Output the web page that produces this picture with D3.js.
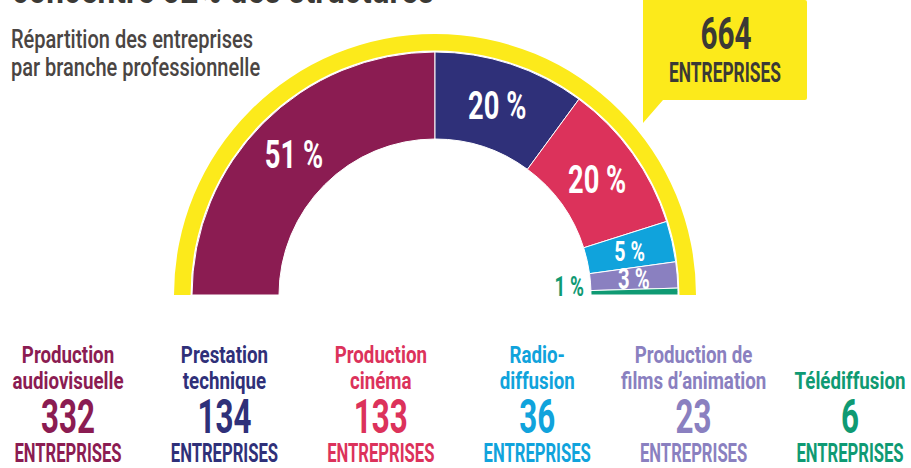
<!DOCTYPE html>
<html>
<head>
<meta charset="utf-8">
<script src="https://cdn.jsdelivr.net/npm/d3@7"></script>
<style>
  body { margin: 0; background: #fff; }
  svg { display: block; font-family: Roboto, "Noto Sans", sans-serif; }
</style>
</head>
<body>
<svg id="drawing_region"></svg>
<script>
// branches, counts and rounded shares
const branches = ["Production audiovisuelle", "Prestation technique", "Production cinéma",
                  "Radio-diffusion", "Production de films d'animation", "Télédiffusion"];
const label_lines = [["Production", "audiovisuelle"], ["Prestation", "technique"], ["Production", "cinéma"],
                     ["Radio-", "diffusion"], ["Production de", "films d’animation"], ["Télédiffusion"]];
const counts = [332, 134, 133, 36, 23, 6];
const shares = ["51 %", "20 %", "20 %", "5 %", "3 %", "1 %"];
const total = 664;
const unit = "ENTREPRISES";
const colors = ["#8b1c52", "#2f3079", "#dc325b", "#10a3dc", "#8a80c0", "#0f9a73"];

const width = 911, height = 468;
const dark = "#3b3935";

const svg = d3.select("#drawing_region")
    .attr("width", width)
    .attr("height", height);

// squeeze a text horizontally to fake a condensed face
function condense(sel, x, y, k) {
    sel.attr("transform", `translate(${x},${y}) scale(${k},1)`);
}

// title (cut off by the frame at the top)
svg.append("text")
    .style("font-size", "40px")
    .style("font-weight", "bold")
    .attr("fill", dark)
    .text("concentre 52% des structures")
    .call(condense, 12, 3, 0.79);

svg.append("text")
    .style("font-size", "26px")
    .style("font-weight", 500)
    .attr("fill", "#4a4543")
    .text("Répartition des entreprises")
    .call(condense, 11, 48, 0.77);

svg.append("text")
    .style("font-size", "26px")
    .style("font-weight", 500)
    .attr("fill", "#4a4543")
    .text("par branche professionnelle")
    .call(condense, 11, 76, 0.77);

// half donut
const cx = 435, cy = 295;
const r_in = 156, r_out = 243;

const chart = svg.append("g")
    .attr("transform", `translate(${cx}, ${cy})`);

chart.append("path")
    .attr("fill", "#fcea1b")
    .attr("d", d3.arc()({innerRadius: r_out + 1.5, outerRadius: 261,
                         startAngle: -Math.PI / 2, endAngle: Math.PI / 2}));

const pie = d3.pie()
    .sort(null)
    .startAngle(-Math.PI / 2)
    .endAngle(Math.PI / 2)
    .value(d => d);

const arcs = pie(counts);
const arc = d3.arc().innerRadius(r_in).outerRadius(r_out);

chart.selectAll("path.slice")
    .data(arcs)
    .enter()
    .append("path")
    .attr("class", "slice")
    .attr("d", arc)
    .attr("fill", (d, i) => colors[i])
    .attr("stroke", "#fff")
    .attr("stroke-width", 1);

const share_size = [39, 39, 39, 28, 29, 27];
chart.selectAll("text.share")
    .data(arcs)
    .enter()
    .append("text")
    .attr("class", "share")
    .attr("text-anchor", (d, i) => i === arcs.length - 1 ? "end" : "middle")
    .attr("dy", (d, i) => i === arcs.length - 1 ? "0" : "0.36em")
    .style("font-size", (d, i) => share_size[i] + "px")
    .style("font-weight", "bold")
    .attr("fill", (d, i) => i === arcs.length - 1 ? colors[i] : "#fff")
    .text((d, i) => shares[i])
    .each(function(d, i) {
        let p;
        if (i === arcs.length - 1) {
            // smallest slice: label sits inside the hole, left of the bar
            const a = (d.startAngle + d.endAngle) / 2;
            p = [Math.sin(a) * (r_in - 7), -Math.cos(a) * (r_in - 7) + 3];
        } else {
            p = arc.centroid(d);
        }
        condense(d3.select(this), p[0], p[1], 0.7);
    });

// bubble with the total
const bubble = svg.append("g");
bubble.append("path")
    .attr("fill", "#fcea1b")
    .attr("d", "M643,0 H805 Q807,0 807,2 V98 Q807,100 805,100 H663 L643,123 Z");

bubble.append("text")
    .attr("text-anchor", "middle")
    .style("font-size", "45px")
    .style("font-weight", "bold")
    .attr("fill", dark)
    .text(total)
    .call(condense, 726, 49, 0.66);

bubble.append("text")
    .attr("text-anchor", "middle")
    .style("font-size", "28px")
    .style("font-weight", "bold")
    .attr("fill", dark)
    .text(unit)
    .call(condense, 725, 82, 0.62);

// legend columns
const xcol = d3.scalePoint()
    .domain(branches)
    .range([68, 850]);

const legend = svg.selectAll("g.legend")
    .data(branches)
    .enter()
    .append("g")
    .attr("class", "legend")
    .attr("fill", (d, i) => colors[i]);

legend.each(function(d, i) {
    const g = d3.select(this);
    const x = xcol(d);
    const lines = label_lines[i];
    lines.forEach((line, j) => {
        const y = lines.length === 1 ? 389 : 363 + j * 26;
        g.append("text")
            .attr("text-anchor", "middle")
            .style("font-size", "24px")
            .style("font-weight", "bold")
            .text(line)
            .call(condense, x, y, 0.78);
    });
    g.append("text")
        .attr("text-anchor", "middle")
        .style("font-size", "49px")
        .style("font-weight", "bold")
        .text(counts[i])
        .call(condense, x, 433, 0.64);
    g.append("text")
        .attr("text-anchor", "middle")
        .style("font-size", "26px")
        .style("font-weight", "bold")
        .text(unit)
        .call(condense, x, 462, 0.64);
});
</script>
</body>
</html>
